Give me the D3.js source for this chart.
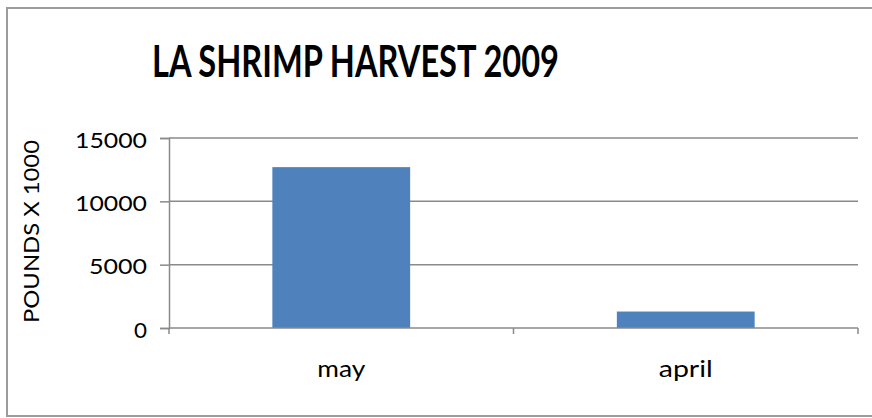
<!DOCTYPE html>
<html>
<head>
<meta charset="utf-8">
<script src="https://cdn.jsdelivr.net/npm/d3@7"></script>
<style>
  html, body { margin: 0; padding: 0; background: #fff; }
  svg { display: block; }
  text { font-family: Lato, "Open Sans", "Liberation Sans", sans-serif; fill: #000; }
</style>
</head>
<body>
<svg id="chart" width="872" height="418"></svg>
<script>
// Monthly shrimp harvest, pounds x 1000
const months = ["may", "april"];
const harvest = [12700, 1300];
const yTicks = [0, 5000, 10000, 15000];
const chartTitle = "LA SHRIMP HARVEST 2009";
const yTitle = "POUNDS X 1000";

const svg = d3.select("#chart");
const W = 872, H = 418;
const plot = { left: 169, right: 858, top: 138, bottom: 328 };

// outer chart frame (right edge runs past the canvas)
svg.append("rect")
  .attr("x", 7).attr("y", 8)
  .attr("width", 880).attr("height", 408)
  .attr("fill", "#fff")
  .attr("stroke", "#9c9c9c")
  .attr("stroke-width", 2);

const x = d3.scaleBand()
  .domain(months)
  .range([plot.left, plot.right])
  .paddingInner(0.6)
  .paddingOuter(0.3);

const y = d3.scaleLinear()
  .domain([0, 15000])
  .range([plot.bottom, plot.top]);

// horizontal gridlines
svg.append("g")
  .selectAll("line")
  .data(yTicks.filter(d => d > 0))
  .join("line")
  .attr("x1", plot.left).attr("x2", plot.right)
  .attr("y1", d => y(d)).attr("y2", d => y(d))
  .attr("stroke", "#8a8a8a")
  .attr("stroke-width", 1.5);

// bars
svg.append("g")
  .selectAll("rect")
  .data(months)
  .join("rect")
  .attr("x", d => x(d))
  .attr("width", x.bandwidth())
  .attr("y", (d, i) => y(harvest[i]))
  .attr("height", (d, i) => y(0) - y(harvest[i]))
  .attr("fill", "#4f81bd");

// y axis
const yAxis = svg.append("g")
  .attr("transform", `translate(${plot.left},0)`)
  .call(d3.axisLeft(y).tickValues(yTicks).tickSize(9).tickPadding(13).tickFormat(d3.format("d")));
yAxis.select(".domain").attr("stroke", "#8a8a8a").attr("stroke-width", 1.5);
yAxis.selectAll(".tick line").attr("stroke", "#8a8a8a").attr("stroke-width", 1.5);
yAxis.selectAll(".tick text")
  .attr("font-size", 22)
  .attr("fill", "#111")
  .attr("dy", "0.42em")
  .attr("font-family", "Lato, 'Open Sans', sans-serif")
  .each(function(d) {
    const len = { 0: 13, 5000: 58, 10000: 72, 15000: 72 }[d];
    d3.select(this).attr("textLength", len).attr("lengthAdjust", "spacingAndGlyphs");
  });

// x axis: baseline with category boundary ticks
const xBase = svg.append("g");
xBase.append("line")
  .attr("x1", plot.left).attr("x2", plot.right)
  .attr("y1", y(0)).attr("y2", y(0))
  .attr("stroke", "#8a8a8a").attr("stroke-width", 1.5);
const bounds = [plot.left, (plot.left + plot.right) / 2, plot.right];
xBase.selectAll("line.bound")
  .data(bounds)
  .join("line")
  .attr("class", "bound")
  .attr("x1", d => d).attr("x2", d => d)
  .attr("y1", y(0)).attr("y2", y(0) + 6)
  .attr("stroke", "#8a8a8a").attr("stroke-width", 1.5);

// category labels
svg.append("g")
  .selectAll("text")
  .data(months)
  .join("text")
  .attr("x", d => x(d) + x.bandwidth() / 2)
  .attr("y", 377)
  .attr("text-anchor", "middle")
  .attr("font-size", 23)
  .attr("fill", "#111")
  .attr("textLength", d => d === "may" ? 48 : 54)
  .attr("lengthAdjust", "spacingAndGlyphs")
  .text(d => d);

// y axis title
svg.append("text")
  .attr("transform", "translate(39,231.5) rotate(-90)")
  .attr("text-anchor", "middle")
  .attr("font-size", 22)
  .attr("fill", "#111")
  .attr("textLength", 183)
  .attr("lengthAdjust", "spacingAndGlyphs")
  .text(yTitle);

// chart title
svg.append("text")
  .attr("x", 355.5)
  .attr("y", 77)
  .attr("text-anchor", "middle")
  .attr("font-size", 44)
  .attr("font-weight", "bold")
  .attr("textLength", 407)
  .attr("lengthAdjust", "spacingAndGlyphs")
  .text(chartTitle);
</script>
</body>
</html>
